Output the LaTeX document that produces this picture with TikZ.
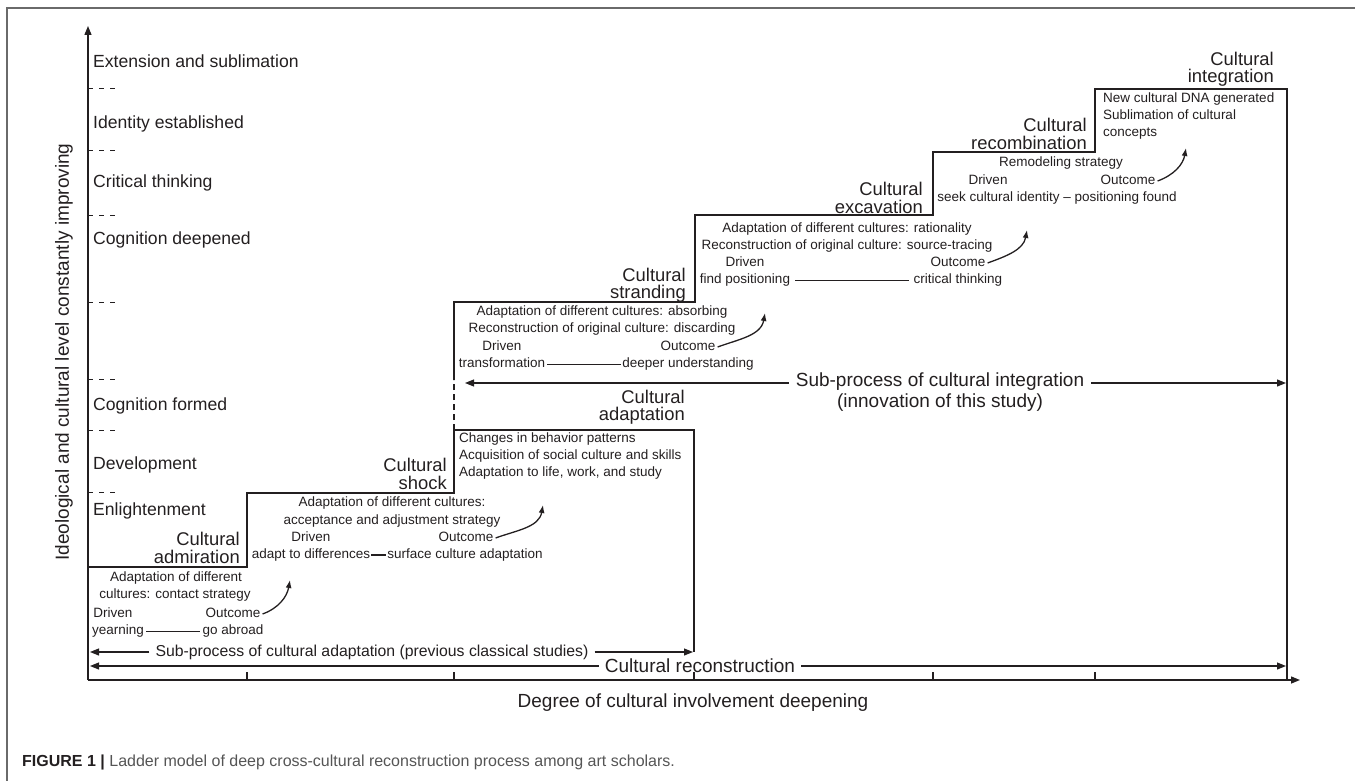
\documentclass[tikz,border=0pt]{standalone}
\usepackage{fontspec}
\setmainfont{Liberation Sans}
\usetikzlibrary{arrows.meta,calc}
\tikzset {>={Triangle[length=9pt,width=7pt]}}
\definecolor{ink}{HTML}{231F20}
\definecolor{framegray}{HTML}{6A6A6A}
\definecolor{capgray}{HTML}{555555}
\tikzset{
  big/.style={font=\fontsize{17.6}{18.5}\selectfont,text=ink,inner sep=0pt},
  huge/.style={font=\fontsize{19}{21}\selectfont,text=ink,inner sep=0pt},
  stage/.style={font=\fontsize{18.4}{17.5}\selectfont,text=ink,inner sep=0pt,align=right,anchor=east},
  lvl/.style={big,anchor=west},
  span/.style={huge,inner sep=6pt},
  small/.style={font=\fontsize{13.5}{16.5}\selectfont,text=ink,inner sep=2pt,text height=10pt,text depth=3pt},
  smallbox/.style={font=\fontsize{13.5}{16.8}\selectfont,text=ink,inner sep=0pt,align=left,anchor=north west},
  stair/.style={draw=ink,line width=1.5pt},
  lvldash/.style={draw=ink,line width=1pt,dash pattern=on 5pt off 6pt},
  bendup/.style={->,>={Latex[length=8pt,width=6pt]},line width=1.3pt,draw=ink},
}

\begin{document}
\begin{tikzpicture}[x=1pt,y=-1pt]
\useasboundingbox (0,0) rectangle (1355,781);
\draw[framegray,line width=1.5pt] (7,781) -- (7,8) -- (1355,8);
% axes
\coordinate (O) at (88,680);
\coordinate (ytop) at (88,26);
\coordinate (xend) at (1300,680);
\draw[->,line width=1.4pt,ink] (O) -- (ytop);
\draw[->,line width=1.4pt,ink] (O) -- (xend);
\foreach \x in {247,454,694,933,1095} \draw[ink,line width=1.1pt] (\x,680) -- (\x,672);
\node[huge,rotate=90] (ylab) at (64,352) {Ideological and cultural level constantly improving};
\node[huge] (xlab) at (693,703) {Degree of cultural involvement deepening};
% levels
\foreach \y in {89,151,215,302,379,430,492} \draw[lvldash] (88,\y) -- (117,\y);
\node[lvl] (l7) at (93,61) {Extension and sublimation};
\node[lvl] (l6) at (93,124) {Identity established};
\node[lvl] (l5) at (93,183) {Critical thinking};
\node[lvl] (l4) at (93,240) {Cognition deepened};
\node[lvl] (l3) at (93,406) {Cognition formed};
\node[lvl] (l2) at (93,465) {Development};
\node[lvl] (l1) at (93,511) {Enlightenment};
% ladder
\draw[stair] (88,567) -| (247,493) -| (454,430);
\draw[stair,dashed,dash pattern=on 6pt off 4pt] (454,430) -- (454,380);
\draw[stair] (454,380) |- (695,302) |- (933,215) |- (1095,152) |- (1287,89) -- (1287,680);
\draw[stair] (454,430) -| (694,652);
% stage names
\node[stage] (admiration) at (240,548) {Cultural\\admiration};
\node[stage] (shock) at (447,474) {Cultural\\shock};
\node[stage] (adaptation) at (685,407) {Cultural\\adaptation};
\node[stage] (stranding) at (686,285) {Cultural\\stranding};
\node[stage] (excavation) at (923,198) {Cultural\\excavation};
\node[stage] (recombination) at (1087,134) {Cultural\\recombination};
\node[stage] (integration) at (1274,69) {Cultural\\integration};
% admiration step
\node[small] (adm1) at (176,578) {Adaptation of different};
\node[small] (adm2) at (175,595) {cultures: contact strategy};
\node[small] (admdrv) at (113,614) {Driven};
\node[small] (admout) at (233,614) {Outcome};
\node[small] (yearning) at (118,631) {yearning};
\node[small] (abroad) at (233,631) {go abroad};
\draw[ink,line width=1pt] (yearning) -- (abroad);
\coordinate (admtip) at (290,580);
\draw[bendup] (admout.east) to[out=20,in=-100] (admtip);
% shock step
\node[small] (shk1) at (392,503) {Adaptation of different cultures:};
\node[small] (shk2) at (392,521) {acceptance and adjustment strategy};
\node[small] (shkdrv) at (311,538) {Driven};
\node[small] (shkout) at (466,538) {Outcome};
\node[small,inner sep=1pt] (differ) at (311,555) {adapt to differences};
\node[small,inner sep=1pt] (surface) at (465,555) {surface culture adaptation};
\draw[ink,line width=1.3pt] (differ) -- (surface);
\coordinate (shktip) at (543,505);
\draw[bendup] (shkout.east) to[out=20,in=-100] (shktip);
% adaptation box
\node[smallbox] (adapttxt) at (459,433) {Changes in behavior patterns\\Acquisition of social culture and skills\\Adaptation to life, work, and study};
% stranding step
\node[small] (str1) at (602,312) {Adaptation of different cultures: absorbing};
\node[small] (str2) at (602,329) {Reconstruction of original culture: discarding};
\node[small] (strdrv) at (502,347) {Driven};
\node[small] (strout) at (688,347) {Outcome};
\node[small] (transf) at (502,364) {transformation};
\node[small,inner sep=1pt] (deeper) at (688,364) {deeper understanding};
\draw[ink,line width=1pt] (transf) -- (deeper);
\coordinate (strtip) at (765,313);
\draw[bendup] (strout.east) to[out=20,in=-100] (strtip);
% excavation step
\node[small] (exc1) at (847,229) {Adaptation of different cultures: rationality};
\node[small] (exc2) at (847,246) {Reconstruction of original culture: source-tracing};
\node[small] (excdrv) at (745,263) {Driven};
\node[small] (excout) at (958,263) {Outcome};
\node[small,inner sep=5pt] (findpos) at (745,280) {find positioning};
\node[small,inner sep=5pt] (critical) at (958,280) {critical thinking};
\draw[ink,line width=1pt] (findpos) -- (critical);
\coordinate (exctip) at (1027,230);
\draw[bendup] (excout.east) to[out=20,in=-100] (exctip);
% recombination step
\node[small] (rec1) at (1061,163) {Remodeling strategy};
\node[small] (recdrv) at (988,181) {Driven};
\node[small] (recout) at (1128,181) {Outcome};
\node[small] (seek) at (1057,198) {seek cultural identity -- positioning found};
\coordinate (rectip) at (1186,148);
\draw[bendup] (recout.east) to[out=20,in=-100] (rectip);
% integration box
\node[smallbox] (integtxt) at (1103,93) {New cultural DNA generated\\Sublimation of cultural\\concepts};
% sub-processes
\node[font=\fontsize{15.8}{18}\selectfont,text=ink,inner sep=6pt] (subadapt) at (372,652) {Sub-process of cultural adaptation (previous classical studies)};
\coordinate (sa1) at (90,652);
\coordinate (sa2) at (693,652);
\draw[->,ink,line width=1.1pt] (subadapt) -- (sa1);
\draw[->,ink,line width=1.1pt] (subadapt) -- (sa2);
\node[span] (recon) at (700,666) {Cultural reconstruction};
\coordinate (rc1) at (90,666);
\coordinate (rc2) at (1286,666);
\draw[->,ink,line width=1.1pt] (recon) -- (rc1);
\draw[->,ink,line width=1.1pt] (recon) -- (rc2);
\node[huge,align=center,anchor=north] (subinteg) at (940,373) {Sub-process of cultural integration\\(innovation of this study)};
\coordinate (si1) at (465,383);
\coordinate (si2) at (1286,383);
\draw[->,ink,line width=1.1pt] ($(subinteg.north west)+(-7,10)$) -- (si1);
\draw[->,ink,line width=1.1pt] ($(subinteg.north east)+(7,10)$) -- (si2);
% caption
\node[anchor=west,inner sep=0pt,font=\fontsize{16}{18}\selectfont,text=capgray] (caption) at (22,762) {\textcolor{ink}{\textbf{FIGURE 1 |}} Ladder model of deep cross-cultural reconstruction process among art scholars.};
\end{tikzpicture}
\end{document}
